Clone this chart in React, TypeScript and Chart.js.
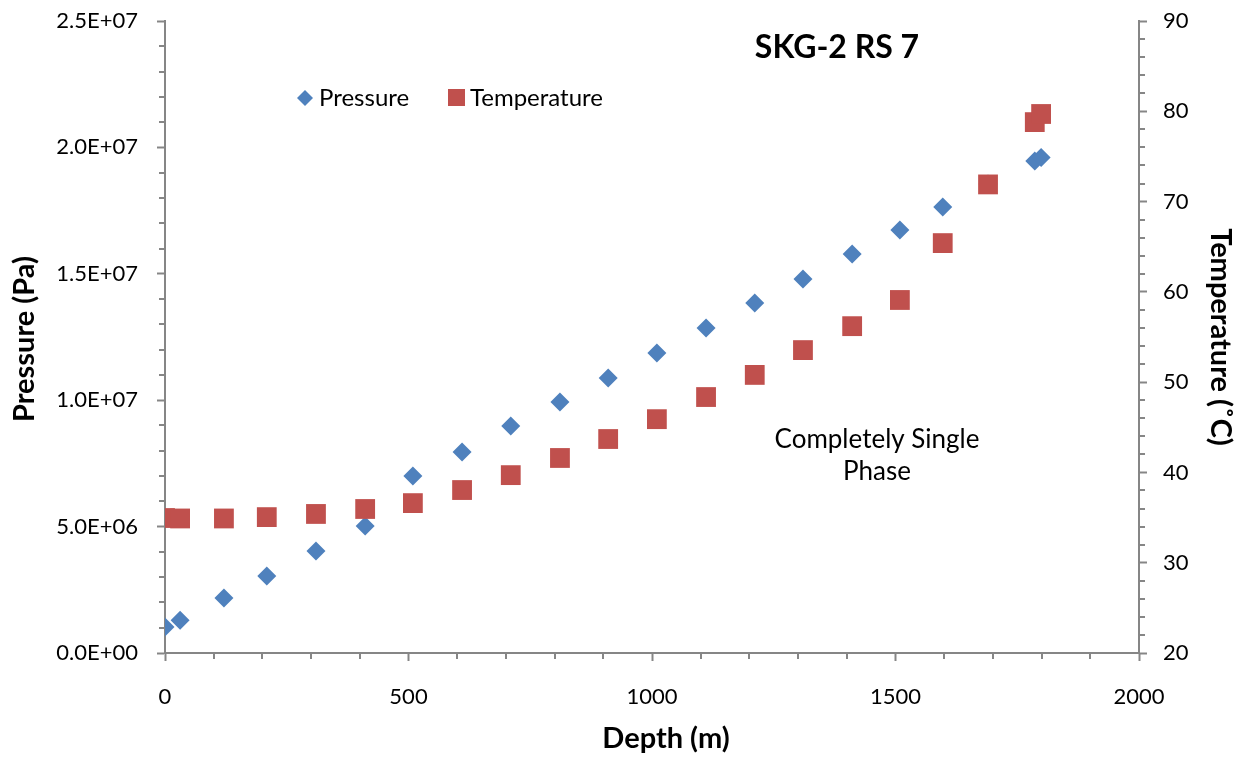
import React, { useEffect, useRef } from "react";
import { Chart, registerables } from "chart.js";

Chart.register(...registerables);

// ---- data ----
const depthM = [0, 31, 121, 209, 310, 411, 509, 610, 710, 811, 910, 1010, 1111, 1211, 1310, 1411, 1509, 1597, 1690, 1786, 1799];
const pressurePa = [1.03e6, 1.3e6, 2.18e6, 3.05e6, 4.03e6, 5.02e6, 7.0e6, 7.95e6, 8.98e6, 9.93e6, 10.88e6, 11.87e6, 12.86e6, 13.84e6, 14.79e6, 15.78e6, 16.73e6, 17.64e6, 18.55e6, 19.46e6, 19.6e6];
const temperatureC = [34.95, 34.9, 34.9, 35.05, 35.4, 35.95, 36.6, 38.05, 39.7, 41.6, 43.7, 45.9, 48.35, 50.8, 53.55, 56.2, 59.1, 65.4, 71.9, 78.8, 79.7];

const depthTicks = [0, 500, 1000, 1500, 2000];
const pressureTicks = [0, 5e6, 1e7, 1.5e7, 2e7, 2.5e7];
const temperatureTicks = [20, 30, 40, 50, 60, 70, 80, 90];
const depthMinorStep = 100;
const pressureMinorStep = 1e6;
const temperatureMinorStep = 2;

const chartTitle = "SKG-2 RS 7";
const xTitle = "Depth (m)";
const yTitle = "Pressure (Pa)";
const y1Title = "Temperature (\u02DAC)";
const noteLines = ["Completely Single", "Phase"];
const seriesNames = ["Pressure", "Temperature"];

const BLUE = "#4F81BD";
const RED = "#C0504D";
const AXIS = "#868686";
const FONT = "Lato, 'Open Sans', sans-serif";

function sci(v: number): string {
  if (v === 0) return "0.0E+00";
  const e = Math.floor(Math.log10(Math.abs(v)) + 1e-9);
  const m = v / Math.pow(10, e);
  return m.toFixed(1) + "E" + (e < 0 ? "-" : "+") + String(Math.abs(e)).padStart(2, "0");
}

function fixBox(size: { width?: number; height?: number }) {
  return (s: any) => {
    if (size.width !== undefined) s.width = size.width;
    if (size.height !== undefined) s.height = size.height;
    s.paddingTop = 0;
    s.paddingBottom = 0;
    s.paddingLeft = 0;
    s.paddingRight = 0;
  };
}

const decorPlugin = {
  id: "decor",
  afterDraw(chart: any) {
    const ctx = chart.ctx as CanvasRenderingContext2D;
    const { x, y, y1 } = chart.scales;
    ctx.save();
    // minor ticks
    ctx.strokeStyle = AXIS;
    ctx.lineWidth = 2;
    const minorLen = 6;
    ctx.beginPath();
    for (let v = depthTicks[0]; v <= depthTicks[depthTicks.length - 1]; v += depthMinorStep) {
      if (depthTicks.includes(v)) continue;
      const px = Math.round(x.getPixelForValue(v));
      ctx.moveTo(px, x.top);
      ctx.lineTo(px, x.top + minorLen);
    }
    for (let i = 0; ; i++) {
      const v = pressureTicks[0] + i * pressureMinorStep;
      if (v > pressureTicks[pressureTicks.length - 1] + 1) break;
      if (pressureTicks.some((t) => Math.abs(t - v) < 1)) continue;
      const py = Math.round(y.getPixelForValue(v));
      ctx.moveTo(y.right, py);
      ctx.lineTo(y.right - minorLen, py);
    }
    for (let v = temperatureTicks[0]; v <= temperatureTicks[temperatureTicks.length - 1]; v += temperatureMinorStep) {
      if (temperatureTicks.includes(v)) continue;
      const py = Math.round(y1.getPixelForValue(v));
      ctx.moveTo(y1.left, py);
      ctx.lineTo(y1.left + minorLen, py);
    }
    ctx.stroke();

    ctx.fillStyle = "#000";
    ctx.textBaseline = "alphabetic";
    // chart title
    ctx.font = `bold 32px ${FONT}`;
    ctx.textAlign = "center";
    ctx.fillText(chartTitle, 837, 58);

    // annotation
    ctx.font = `26px ${FONT}`;
    ctx.fillText(noteLines[0], 877, 448);
    ctx.fillText(noteLines[1], 877, 480);

    // axis titles
    ctx.font = `bold 29px ${FONT}`;
    ctx.fillText(xTitle, 666, 748);
    ctx.save();
    ctx.translate(34, 339);
    ctx.rotate(-Math.PI / 2);
    ctx.fillText(yTitle, 0, 0);
    ctx.restore();
    ctx.save();
    ctx.translate(1211, 337);
    ctx.rotate(Math.PI / 2);
    ctx.fillText(y1Title, 0, 0);
    ctx.restore();

    // legend
    ctx.textAlign = "left";
    ctx.font = `24px ${FONT}`;
    ctx.fillStyle = BLUE;
    ctx.beginPath();
    ctx.moveTo(297, 98);
    ctx.lineTo(305, 90);
    ctx.lineTo(313, 98);
    ctx.lineTo(305, 106);
    ctx.closePath();
    ctx.fill();
    ctx.fillStyle = "#000";
    ctx.fillText(seriesNames[0], 319, 106);
    ctx.fillStyle = RED;
    ctx.fillRect(448, 89, 17, 17);
    ctx.fillStyle = "#000";
    ctx.fillText(seriesNames[1], 470, 106);
    ctx.restore();
  },
};

export default function App() {
  const ref = useRef<HTMLCanvasElement | null>(null);
  useEffect(() => {
    if (!ref.current) return;
    const tickFont = { family: FONT, size: 22 };
    const chart = new Chart(ref.current, {
      type: "scatter",
      data: {
        datasets: [
          {
            label: seriesNames[0],
            data: depthM.map((d, i) => ({ x: d, y: pressurePa[i] })),
            yAxisID: "y",
            pointStyle: "rectRot",
            pointRadius: 9.5,
            pointHoverRadius: 9.5,
            backgroundColor: BLUE,
            borderColor: BLUE,
            borderWidth: 0,
            order: 1,
          },
          {
            label: seriesNames[1],
            data: depthM.map((d, i) => ({ x: d, y: temperatureC[i] })),
            yAxisID: "y1",
            pointStyle: "rect",
            pointRadius: 14,
            pointHoverRadius: 14,
            backgroundColor: RED,
            borderColor: RED,
            borderWidth: 0,
            order: 0,
          },
        ],
      },
      options: {
        responsive: false,
        animation: false,
        devicePixelRatio: 1,
        layout: { padding: { top: 21, left: 0, right: 0, bottom: 0 } },
        plugins: { legend: { display: false }, tooltip: { enabled: false }, title: { display: false } },
        scales: {
          x: {
            type: "linear",
            min: depthTicks[0],
            max: depthTicks[depthTicks.length - 1],
            afterBuildTicks: (s: any) => { s.ticks = depthTicks.map((v) => ({ value: v })); },
            ticks: { color: "#000", font: tickFont, padding: 23, maxRotation: 0, callback: (v: any) => String(v) },
            grid: { drawOnChartArea: false, tickLength: 8, tickColor: AXIS, tickWidth: 2 },
            border: { color: AXIS, width: 2 },
            afterFit: fixBox({ height: 105 }),
          },
          y: {
            type: "linear",
            position: "left",
            min: pressureTicks[0],
            max: pressureTicks[pressureTicks.length - 1],
            afterBuildTicks: (s: any) => { s.ticks = pressureTicks.map((v) => ({ value: v })); },
            ticks: { color: "#000", font: tickFont, padding: 19, callback: (v: any) => sci(Number(v)) },
            grid: { drawOnChartArea: false, tickLength: 8, tickColor: AXIS, tickWidth: 2 },
            border: { color: AXIS, width: 2 },
            afterFit: fixBox({ width: 165 }),
          },
          y1: {
            type: "linear",
            position: "right",
            min: temperatureTicks[0],
            max: temperatureTicks[temperatureTicks.length - 1],
            afterBuildTicks: (s: any) => { s.ticks = temperatureTicks.map((v) => ({ value: v })); },
            ticks: { color: "#000", font: tickFont, padding: 16, callback: (v: any) => String(v) },
            grid: { drawOnChartArea: false, tickLength: 8, tickColor: AXIS, tickWidth: 2 },
            border: { color: AXIS, width: 2 },
            afterFit: fixBox({ width: 105 }),
          },
        },
      },
      plugins: [decorPlugin],
    } as any);
    return () => chart.destroy();
  }, []);
  return (
    <div style={{ position: "absolute", left: 0, top: 0, width: 1244, height: 758, background: "#fff" }}>
      <canvas ref={ref} width={1244} height={758} style={{ display: "block", width: 1244, height: 758 }} />
    </div>
  );
}
